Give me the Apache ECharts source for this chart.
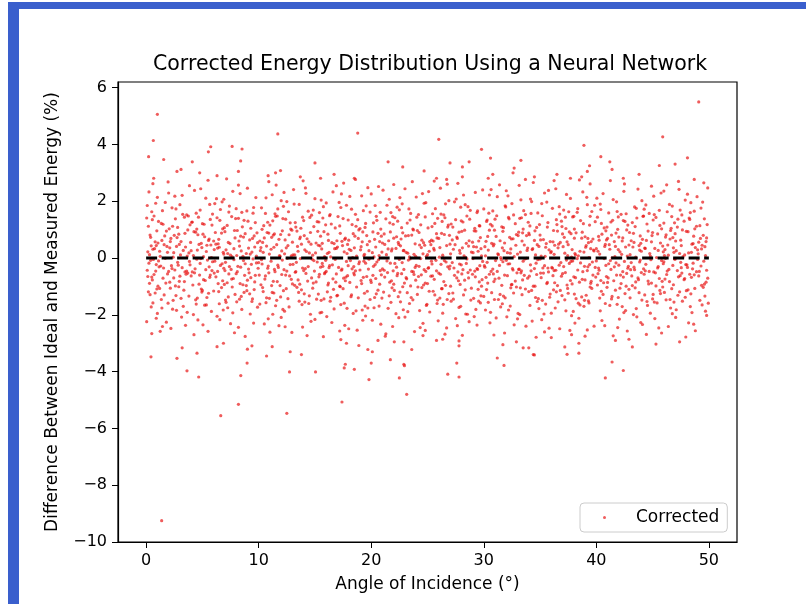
<!DOCTYPE html>
<html>
<head>
<meta charset="utf-8">
<script src="https://cdn.jsdelivr.net/npm/echarts@6/dist/echarts.min.js"></script>
<style>
  html, body { margin: 0; padding: 0; background: #fff; }
  #chart { width: 806px; height: 604px; }
</style>
</head>
<body>
<div id="chart"></div>
<script>
// tick values
const xTicks = [0, 10, 20, 30, 40, 50];
const yTicks = [-10, -8, -6, -4, -2, 0, 2, 4, 6];

// reference line (ideal = measured)
const idealLine = [[0, 0], [50, 0]];

// core of the cloud, read band by band (angle 0-10, 10-20, ...)
const band00 = [
  [0.3,0.12],[2.7,0.41],[5.1,0.05],[7.8,0.33],[9.4,0.21],[1.6,0.47],[4.2,0.09],[6.5,0.38],[8.9,0.16],[3.3,0.27],[0.9,0.44],[5.8,0.02],[7.1,0.29],[2.1,0.36],[9.8,0.07],[4.7,0.48],[6.9,0.14],[1.2,0.24],[8.3,0.42],[3.8,0.18],[0.6,0.31],[5.4,0.45],[7.5,0.1],[2.4,0.03],[9.1,0.35],[4.0,0.26],[6.2,0.49],[1.9,0.2],[8.6,0.06],[3.5,0.39],
  [1.4,0.62],[4.4,0.91],[7.3,0.55],[9.6,0.78],[2.9,0.84],[5.6,0.67],[8.1,0.97],[0.4,0.73],[3.1,0.58],[6.7,0.88],[9.2,0.64],[1.8,0.95],[4.9,0.52],[7.9,0.71],[2.5,0.8],[6.0,0.6],[8.8,0.86],[0.8,0.57],[3.7,0.99],[5.2,0.75],[7.0,0.93],[9.9,0.54],[2.2,0.69],[4.6,0.82],[6.4,0.5],[8.4,0.77],
  [0.2,1.12],[2.6,1.38],[5.0,1.21],[7.6,1.46],[9.3,1.05],[1.1,1.29],[3.9,1.17],[6.3,1.42],[8.7,1.33],[4.5,1.02],[0.7,1.48],[2.8,1.08],[5.7,1.36],[7.2,1.15],[9.7,1.25],[3.4,1.44],[6.8,1.03],[1.5,1.19],[8.2,1.4],[4.1,1.27],
  [0.5,1.63],[3.0,1.88],[5.9,1.55],[8.0,1.74],[1.7,1.96],[4.8,1.69],[7.4,1.83],[9.5,1.58],[2.3,1.77],[6.1,1.92],[8.5,1.61],[3.6,1.52],[6.6,1.71],[0.1,1.85],
  [1.0,2.14],[4.3,2.38],[6.9,2.07],[9.0,2.46],[2.0,2.29],[5.3,2.11],[7.7,2.35],[3.2,2.21],
  [0.6,2.62],[5.5,2.74],[8.2,2.57],
  [0.4,-0.08],[2.3,-0.37],[4.8,-0.19],[7.0,-0.44],[9.5,-0.03],[1.3,-0.28],[3.6,-0.46],[6.1,-0.11],[8.4,-0.32],[0.9,-0.23],[5.3,-0.41],[7.8,-0.06],[2.8,-0.15],[9.1,-0.39],[4.1,-0.49],[6.6,-0.26],[1.7,-0.01],[8.8,-0.2],[3.2,-0.34],[5.9,-0.13],[0.1,-0.43],[7.4,-0.3],[2.0,-0.47],[9.8,-0.17],[4.5,-0.04],[6.9,-0.36],[1.1,-0.1],[8.1,-0.48],[3.9,-0.24],[5.6,-0.31],
  [0.7,-0.58],[3.4,-0.83],[6.2,-0.66],[8.6,-0.94],[1.5,-0.71],[4.3,-0.52],[7.2,-0.87],[9.7,-0.61],[2.6,-0.98],[5.1,-0.76],[8.0,-0.55],[0.3,-0.89],[3.0,-0.64],[6.8,-0.8],[9.3,-0.69],[1.9,-0.56],[4.7,-0.92],[7.6,-0.74],[2.1,-0.85],[5.7,-0.6],[8.9,-0.97],[0.5,-0.67],[3.7,-0.53],[6.4,-0.9],[9.0,-0.78],[4.0,-0.63],
  [1.2,-1.07],[3.8,-1.34],[6.0,-1.16],[8.3,-1.45],[0.8,-1.23],[2.9,-1.01],[5.4,-1.39],[7.9,-1.28],[9.6,-1.11],[4.4,-1.47],[1.6,-1.3],[6.7,-1.04],[8.7,-1.21],[3.1,-1.42],[5.0,-1.14],[7.3,-1.37],[0.2,-1.19],[2.4,-1.49],[9.2,-1.26],[4.9,-1.09],
  [0.6,-1.58],[2.7,-1.84],[5.2,-1.66],[7.7,-1.93],[9.4,-1.53],[1.4,-1.76],[4.2,-1.99],[6.5,-1.61],[8.5,-1.81],[3.3,-1.7],[5.8,-1.88],[1.0,-1.95],[7.1,-1.56],[9.9,-1.73],
  [0.9,-2.12],[3.5,-2.37],[6.3,-2.05],[8.2,-2.44],[1.8,-2.26],[4.6,-2.18],[7.5,-2.31],[2.2,-2.48],
  [0.5,-2.66],[5.5,-2.58],[8.8,-2.76]
];
const band00b = [
  [0.15,0.22],[3.65,0.07],[6.35,0.35],[9.25,0.14],[1.85,0.41],[4.55,0.28],[7.65,0.04],[2.45,0.19],[5.75,0.46],[8.45,0.25],[0.75,0.33],[3.05,0.11],[6.85,0.2],[9.65,0.39],[1.25,0.06],[4.95,0.37],[7.25,0.16],[2.95,0.48],[5.35,0.23],[8.05,0.09],[0.45,0.43],[6.05,0.3],
  [0.35,0.81],[2.15,0.58],[4.25,0.93],[6.45,0.66],[8.65,0.74],[1.05,0.53],[3.45,0.87],[5.55,0.62],[7.85,0.97],[9.45,0.69],[1.65,0.78],[3.95,0.55],[6.15,0.9],[8.25,0.6],[0.95,0.96],[2.75,0.72],[5.05,0.84],[7.45,0.51],[9.85,0.89],
  [0.55,1.35],[2.35,1.12],[4.65,1.44],[6.95,1.07],[9.05,1.3],[1.35,1.22],[3.75,1.48],[5.85,1.16],[7.95,1.39],[2.05,1.03],[4.05,1.26],[6.55,1.33],[8.55,1.1],[0.05,1.41],[5.15,1.19],
  [1.45,1.67],[3.25,1.54],[5.65,1.89],[7.35,1.62],[9.55,1.78],[0.85,1.93],[2.65,1.73],[4.45,1.58],[6.75,1.98],[8.95,1.66],
  [0.25,2.33],[2.55,2.18],[4.85,2.44],[6.25,2.09],[8.35,2.27],[9.75,2.13],
  [1.95,2.68],[3.85,2.55],[7.15,2.79],
  [0.25,-0.18],[2.55,-0.42],[5.45,-0.07],[8.15,-0.29],[1.55,-0.35],[3.85,-0.12],[6.35,-0.47],[9.35,-0.22],[0.65,-0.05],[4.35,-0.38],[7.05,-0.15],[2.25,-0.27],[5.85,-0.44],[8.65,-0.09],[1.15,-0.31],[3.45,-0.49],[6.75,-0.2],[9.95,-0.36],[4.85,-0.02],[7.55,-0.4],[2.85,-0.25],[0.85,-0.46],
  [0.15,-0.65],[1.75,-0.88],[3.55,-0.57],[5.25,-0.79],[6.95,-0.93],[8.75,-0.61],[9.65,-0.84],[2.45,-0.7],[4.15,-0.95],[6.05,-0.53],[7.75,-0.72],[1.05,-0.99],[2.95,-0.82],[4.75,-0.6],[7.35,-0.56],[8.35,-0.9],[0.55,-0.77],[5.65,-0.68],[9.15,-0.52],
  [0.35,-1.29],[2.15,-1.06],[4.55,-1.41],[6.45,-1.18],[8.45,-1.35],[1.35,-1.46],[3.35,-1.13],[5.55,-1.24],[7.65,-1.02],[9.45,-1.44],[0.95,-1.09],[2.65,-1.32],[4.95,-1.2],[7.05,-1.48],[8.95,-1.15],
  [0.45,-1.72],[1.95,-1.59],[3.65,-1.91],[5.35,-1.65],[6.85,-1.83],[8.05,-1.54],[9.25,-1.97],[2.35,-1.8],[4.45,-1.62],[7.25,-1.75],
  [0.05,-2.24],[1.45,-2.41],[3.15,-2.08],[5.05,-2.35],[6.55,-2.17],[9.55,-2.29],
  [1.25,-2.58],[4.25,-2.7],[7.85,-2.63]
];
const band10 = [
  [10.2,0.37],[12.9,0.08],[15.3,0.45],[17.6,0.22],[19.4,0.13],[11.1,0.31],[13.8,0.49],[16.4,0.04],[18.2,0.27],[14.5,0.18],[10.7,0.42],[12.3,0.15],[17.0,0.39],[19.8,0.26],[15.9,0.02],[11.6,0.47],[13.2,0.11],[16.9,0.34],[18.7,0.07],[14.1,0.29],[10.4,0.2],[12.6,0.44],[15.6,0.32],[17.9,0.48],[19.1,0.4],[11.9,0.06],[13.5,0.24],[16.1,0.16],[18.5,0.36],[14.8,0.1],
  [10.5,0.71],[13.0,0.56],[15.8,0.93],[18.0,0.63],[11.4,0.85],[14.3,0.68],[16.7,0.51],[19.6,0.79],[12.1,0.96],[17.4,0.59],[10.9,0.88],[13.7,0.74],[16.2,0.62],[18.9,0.99],[15.1,0.53],[11.8,0.66],[14.6,0.9],[19.2,0.57],[12.7,0.82],[17.7,0.7],[10.1,0.6],[15.5,0.77],[18.4,0.86],[13.4,0.95],[16.5,0.54],[11.3,0.81],
  [10.8,1.26],[13.3,1.09],[15.7,1.41],[18.3,1.18],[11.5,1.47],[14.0,1.32],[16.8,1.06],[19.5,1.22],[12.4,1.37],[17.2,1.13],[10.3,1.01],[13.9,1.44],[15.2,1.28],[18.8,1.35],[11.0,1.16],[16.3,1.49],[19.0,1.04],[12.8,1.24],[14.9,1.11],[17.5,1.39],
  [10.6,1.57],[12.2,1.82],[14.4,1.65],[16.0,1.94],[18.6,1.54],[11.7,1.73],[13.6,1.89],[15.4,1.6],[17.3,1.78],[19.3,1.67],[12.5,1.99],[14.7,1.51],[17.8,1.86],[19.9,1.62],
  [11.2,2.23],[13.1,2.41],[15.0,2.09],[16.6,2.33],[18.1,2.17],[19.7,2.48],[12.0,2.02],[14.2,2.28],
  [10.9,2.69],[16.9,2.55],[18.6,2.77],
  [10.3,-0.21],[12.5,-0.46],[14.9,-0.09],[17.1,-0.33],[19.5,-0.18],[11.4,-0.4],[13.7,-0.02],[16.3,-0.27],[18.6,-0.45],[15.2,-0.14],[10.8,-0.36],[12.1,-0.07],[14.4,-0.3],[17.8,-0.12],[19.0,-0.42],[11.7,-0.25],[13.3,-0.48],[16.8,-0.05],[18.3,-0.38],[15.7,-0.29],[10.0,-0.16],[12.8,-0.23],[14.0,-0.44],[17.4,-0.39],[19.8,-0.04],[11.1,-0.11],[13.9,-0.35],[16.0,-0.47],[18.9,-0.2],[15.5,-0.32],
  [10.6,-0.63],[13.0,-0.91],[15.4,-0.57],[17.7,-0.8],[19.3,-0.68],[11.9,-0.97],[14.2,-0.54],[16.6,-0.73],[18.1,-0.86],[12.4,-0.6],[10.2,-0.94],[13.5,-0.77],[15.9,-0.51],[17.2,-0.99],[19.6,-0.65],[11.3,-0.82],[14.7,-0.7],[16.2,-0.88],[18.5,-0.59],[12.9,-0.75],[10.9,-0.52],[15.1,-0.84],[17.9,-0.62],[13.2,-0.96],[16.9,-0.56],[19.1,-0.79],
  [10.4,-1.18],[12.6,-1.43],[14.8,-1.06],[17.0,-1.31],[19.4,-1.24],[11.6,-1.49],[13.8,-1.12],[16.4,-1.38],[18.7,-1.02],[15.3,-1.27],[10.7,-1.4],[12.2,-1.15],[14.5,-1.33],[17.5,-1.08],[19.9,-1.46],[11.2,-1.21],[13.4,-1.03],[16.1,-1.19],[18.2,-1.36],[15.8,-1.44],
  [10.1,-1.62],[12.3,-1.87],[14.1,-1.55],[16.7,-1.79],[18.4,-1.95],[11.5,-1.68],[13.6,-1.52],[15.6,-1.91],[17.3,-1.64],[19.2,-1.83],[12.7,-1.72],[14.6,-1.98],[17.6,-1.59],[19.7,-1.76],
  [10.5,-2.32],[12.0,-2.09],[13.9,-2.43],[15.0,-2.16],[16.5,-2.27],[18.0,-2.49],[19.5,-2.04],[11.8,-2.38],
  [11.0,-2.61],[14.3,-2.73],[17.2,-2.57]
];
const band10b = [
  [10.15,0.26],[11.85,0.09],[13.45,0.41],[15.05,0.18],[16.75,0.33],[18.35,0.02],[19.65,0.47],[10.95,0.14],[12.45,0.36],[14.25,0.23],[15.85,0.05],[17.45,0.44],[19.05,0.29],[11.35,0.38],[13.05,0.11],[14.65,0.49],[16.25,0.2],[18.05,0.31],[19.35,0.08],[12.05,0.25],[15.45,0.43],[17.85,0.16],
  [10.35,0.55],[11.95,0.83],[13.65,0.68],[15.25,0.94],[16.95,0.61],[18.55,0.77],[10.75,0.9],[12.35,0.64],[14.05,0.79],[15.65,0.52],[17.25,0.87],[18.85,0.69],[11.15,0.73],[12.95,0.98],[14.45,0.57],[16.15,0.84],[17.65,0.66],[19.25,0.92],[19.85,0.59],
  [10.45,1.14],[12.15,1.39],[13.75,1.05],[15.35,1.27],[17.05,1.46],[18.65,1.12],[11.25,1.31],[12.85,1.02],[14.55,1.43],[16.45,1.2],[17.95,1.34],[19.45,1.08],[11.65,1.48],[15.95,1.17],[13.25,1.25],
  [10.25,1.77],[11.45,1.56],[13.15,1.9],[14.85,1.69],[16.35,1.53],[17.15,1.96],[18.25,1.72],[19.55,1.84],[12.65,1.63],[15.75,1.81],
  [10.65,2.12],[12.25,2.31],[14.15,2.47],[15.55,2.04],[17.35,2.26],[19.15,2.19],
  [11.55,2.57],[13.95,2.72],[17.55,2.64],
  [10.25,-0.06],[11.75,-0.33],[13.35,-0.15],[14.95,-0.46],[16.55,-0.24],[18.15,-0.09],[19.75,-0.39],[10.85,-0.28],[12.55,-0.01],[14.15,-0.37],[15.65,-0.19],[17.35,-0.43],[18.95,-0.13],[11.45,-0.48],[13.05,-0.22],[14.75,-0.04],[16.25,-0.34],[17.95,-0.27],[19.35,-0.11],[12.25,-0.41],[15.95,-0.08],[18.45,-0.3],
  [10.55,-0.74],[12.05,-0.58],[13.65,-0.92],[15.35,-0.66],[16.85,-0.85],[18.45,-0.53],[19.95,-0.78],[11.15,-0.97],[12.75,-0.63],[14.35,-0.81],[15.85,-0.55],[17.55,-0.71],[19.15,-0.9],[10.05,-0.6],[11.65,-0.83],[13.25,-0.5],[16.15,-0.95],[17.75,-0.67],[14.85,-0.88],
  [10.35,-1.04],[11.95,-1.37],[13.55,-1.21],[15.15,-1.45],[16.65,-1.1],[18.25,-1.3],[19.65,-1.17],[10.95,-1.42],[12.45,-1.08],[14.05,-1.26],[15.55,-1.49],[17.25,-1.01],[18.85,-1.4],[11.35,-1.23],[16.95,-1.33],
  [10.65,-1.57],[12.15,-1.81],[13.85,-1.64],[15.45,-1.93],[16.35,-1.52],[17.85,-1.77],[19.45,-1.69],[11.25,-1.98],[14.45,-1.6],[18.65,-1.86],
  [10.85,-2.14],[12.35,-2.42],[14.65,-2.23],[16.05,-2.06],[17.65,-2.37],[19.25,-2.19],
  [12.95,-2.62],[15.75,-2.77],[18.75,-2.54]
];
const band20 = [
  [20.1,0.19],[22.6,0.43],[24.9,0.06],[27.3,0.31],[29.5,0.24],[21.2,0.48],[23.8,0.13],[26.1,0.37],[28.4,0.02],[25.6,0.28],[20.7,0.09],[22.2,0.34],[24.3,0.46],[27.9,0.17],[29.1,0.4],[21.8,0.25],[23.4,0.04],[26.7,0.44],[28.9,0.21],[25.0,0.12],[20.4,0.39],[22.9,0.27],[24.6,0.15],[27.0,0.49],[29.8,0.08],[21.5,0.32],[23.1,0.2],[26.4,0.01],[28.1,0.36],[25.3,0.47],
  [20.3,0.66],[22.8,0.89],[25.2,0.58],[27.6,0.74],[29.3,0.95],[21.0,0.53],[23.6,0.81],[26.0,0.69],[28.7,0.61],[24.1,0.97],[20.9,0.77],[22.4,0.55],[25.8,0.86],[27.2,0.64],[29.7,0.72],[21.7,0.92],[23.9,0.5],[26.5,0.83],[28.3,0.98],[24.5,0.63],[20.6,0.87],[22.0,0.7],[25.5,0.6],[27.8,0.91],[29.0,0.56],[23.3,0.79],
  [20.5,1.33],[22.7,1.07],[24.8,1.45],[27.1,1.2],[29.6,1.14],[21.3,1.38],[23.7,1.02],[26.3,1.29],[28.5,1.48],[25.4,1.11],[20.2,1.24],[22.1,1.42],[24.4,1.17],[27.5,1.35],[29.2,1.05],[21.9,1.46],[23.2,1.23],[26.8,1.09],[28.0,1.31],[25.9,1.4],
  [20.8,1.61],[22.3,1.79],[24.2,1.53],[26.6,1.91],[28.8,1.68],[21.4,1.86],[23.5,1.57],[25.7,1.74],[27.4,1.98],[29.4,1.6],[22.5,1.7],[24.7,1.93],[26.2,1.55],[28.6,1.81],
  [20.0,2.26],[21.6,2.07],[23.0,2.44],[24.0,2.15],[25.1,2.34],[26.9,2.02],[28.2,2.22],[29.9,2.4],
  [22.0,2.59],[25.6,2.71],[27.7,2.63],
  [20.2,-0.29],[22.5,-0.05],[24.7,-0.41],[27.2,-0.16],[29.4,-0.37],[21.4,-0.1],[23.6,-0.47],[26.2,-0.22],[28.5,-0.03],[25.1,-0.34],[20.8,-0.44],[22.1,-0.19],[24.0,-0.26],[27.7,-0.49],[29.9,-0.12],[21.0,-0.38],[23.3,-0.07],[26.8,-0.31],[28.0,-0.24],[25.8,-0.45],[20.5,-0.14],[22.9,-0.4],[24.4,-0.02],[27.0,-0.28],[29.2,-0.46],[21.7,-0.18],[23.9,-0.33],[26.5,-0.09],[28.8,-0.42],[25.4,-0.21],
  [20.4,-0.72],[22.7,-0.55],[25.0,-0.9],[27.4,-0.61],[29.6,-0.84],[21.2,-0.67],[23.5,-0.98],[26.0,-0.53],[28.3,-0.78],[24.2,-0.65],[20.0,-0.86],[22.3,-0.62],[25.6,-0.75],[27.9,-0.93],[29.0,-0.57],[21.8,-0.8],[23.1,-0.69],[26.6,-0.96],[28.6,-0.51],[24.8,-0.88],[20.9,-0.59],[22.0,-0.92],[25.3,-0.64],[27.6,-0.7],[29.8,-0.99],[23.8,-0.58],
  [20.6,-1.13],[22.4,-1.36],[24.5,-1.04],[26.9,-1.25],[29.1,-1.42],[21.1,-1.2],[23.7,-1.47],[26.3,-1.08],[28.2,-1.3],[25.5,-1.17],[20.3,-1.39],[22.8,-1.01],[24.1,-1.28],[27.3,-1.45],[29.5,-1.1],[21.6,-1.33],[23.2,-1.22],[26.1,-1.41],[28.9,-1.06],[25.9,-1.48],
  [20.7,-1.69],[22.6,-1.54],[24.3,-1.85],[26.4,-1.63],[28.4,-1.97],[21.5,-1.77],[23.4,-1.6],[25.2,-1.9],[27.1,-1.52],[29.3,-1.81],[22.2,-1.96],[24.9,-1.67],[27.8,-1.74],[29.7,-1.58],
  [20.1,-2.19],[21.9,-2.41],[23.0,-2.08],[24.6,-2.3],[26.7,-2.46],[27.5,-2.13],[28.7,-2.24],[29.4,-2.36],
  [21.3,-2.67],[24.8,-2.55],[28.1,-2.72]
];
const band20b = [
  [20.25,0.04],[21.85,0.32],[23.25,0.17],[24.75,0.45],[26.35,0.1],[27.85,0.27],[29.35,0.39],[20.95,0.21],[22.45,0.48],[23.95,0.06],[25.55,0.34],[27.05,0.15],[28.65,0.42],[21.35,0.12],[22.85,0.26],[24.45,0.37],[26.05,0.03],[27.45,0.47],[29.05,0.19],[25.15,0.24],[28.25,0.08],[29.75,0.33],
  [20.15,0.92],[21.55,0.61],[23.05,0.78],[24.65,0.54],[26.25,0.87],[27.65,0.69],[29.15,0.96],[20.75,0.58],[22.25,0.75],[23.75,0.99],[25.35,0.63],[26.95,0.8],[28.45,0.52],[21.15,0.85],[22.65,0.67],[24.25,0.9],[25.85,0.71],[28.05,0.94],[29.55,0.6],
  [20.45,1.47],[21.95,1.19],[23.45,1.34],[25.05,1.06],[26.55,1.42],[28.15,1.27],[29.65,1.13],[20.85,1.02],[22.35,1.3],[24.05,1.44],[25.65,1.22],[27.25,1.09],[28.75,1.37],[21.65,1.24],[26.85,1.16],
  [20.35,1.85],[21.75,1.6],[23.35,1.73],[24.85,1.95],[26.45,1.52],[27.95,1.79],[29.45,1.66],[22.75,1.91],[25.45,1.56],[28.35,1.88],
  [21.05,2.39],[22.55,2.13],[24.55,2.27],[26.15,2.46],[27.55,2.08],[29.25,2.31],
  [20.65,2.52],[23.65,2.69],[26.75,2.6],
  [20.35,-0.23],[21.95,-0.45],[23.45,-0.03],[25.05,-0.36],[26.65,-0.14],[28.15,-0.41],[29.65,-0.27],[20.65,-0.06],[22.25,-0.32],[23.75,-0.49],[25.35,-0.11],[26.95,-0.38],[28.45,-0.19],[21.15,-0.43],[22.75,-0.16],[24.25,-0.29],[25.75,-0.08],[27.35,-0.35],[29.05,-0.02],[24.85,-0.47],[27.85,-0.21],[29.45,-0.4],
  [20.15,-0.61],[21.65,-0.85],[23.15,-0.73],[24.65,-0.95],[26.15,-0.57],[27.75,-0.8],[29.25,-0.66],[20.75,-0.92],[22.35,-0.54],[23.95,-0.78],[25.45,-0.63],[27.05,-0.99],[28.65,-0.7],[21.45,-0.51],[22.95,-0.88],[24.45,-0.59],[26.45,-0.83],[28.05,-0.56],[29.85,-0.76],
  [20.45,-1.26],[21.85,-1.05],[23.55,-1.39],[25.15,-1.17],[26.75,-1.46],[28.35,-1.12],[29.75,-1.33],[20.95,-1.41],[22.55,-1.2],[24.15,-1.02],[25.65,-1.3],[27.25,-1.23],[28.85,-1.48],[22.05,-1.14],[26.25,-1.08],
  [20.25,-1.75],[21.75,-1.56],[23.25,-1.89],[24.95,-1.63],[26.35,-1.94],[27.95,-1.7],[29.55,-1.52],[22.85,-1.82],[25.85,-1.6],[28.55,-1.98],
  [20.85,-2.33],[22.45,-2.1],[24.35,-2.45],[25.95,-2.21],[27.65,-2.38],[29.15,-2.06],
  [21.25,-2.75],[23.85,-2.59],[26.55,-2.68]
];
const band30 = [
  [30.4,0.28],[32.7,0.05],[34.9,0.41],[37.2,0.17],[39.5,0.33],[31.3,0.12],[33.6,0.46],[36.0,0.23],[38.4,0.08],[35.5,0.38],[30.9,0.49],[32.1,0.19],[34.3,0.3],[37.8,0.03],[39.1,0.44],[31.8,0.26],[33.0,0.14],[36.6,0.36],[38.9,0.21],[35.1,0.07],[30.1,0.4],[32.4,0.32],[34.6,0.11],[37.5,0.47],[39.8,0.25],[31.5,0.02],[33.9,0.35],[36.3,0.45],[38.1,0.16],[35.8,0.29],
  [30.2,0.59],[32.9,0.83],[35.3,0.65],[37.6,0.92],[39.3,0.54],[31.1,0.76],[33.4,0.6],[36.2,0.97],[38.7,0.7],[34.0,0.88],[30.7,0.52],[32.3,0.73],[35.9,0.58],[37.0,0.85],[39.7,0.67],[31.7,0.94],[33.8,0.79],[36.8,0.55],[38.2,0.89],[34.5,0.62],[30.5,0.98],[32.6,0.68],[35.0,0.81],[37.4,0.57],[39.0,0.75],[33.1,0.91],
  [30.6,1.19],[32.2,1.43],[34.7,1.08],[36.9,1.3],[39.4,1.16],[31.0,1.37],[33.5,1.02],[35.7,1.25],[38.0,1.47],[34.1,1.13],[30.3,1.34],[32.8,1.21],[35.2,1.49],[37.3,1.04],[39.9,1.28],[31.6,1.1],[33.2,1.4],[36.5,1.18],[38.6,1.32],[37.9,1.45],
  [30.8,1.66],[32.5,1.92],[34.2,1.57],[36.1,1.75],[38.3,1.61],[31.9,1.84],[33.7,1.53],[35.6,1.97],[37.1,1.69],[39.2,1.88],[30.0,1.73],[34.8,1.59],[36.7,1.81],[39.6,1.64],
  [31.2,2.16],[32.0,2.37],[33.3,2.05],[35.4,2.29],[36.4,2.44],[37.7,2.1],[38.8,2.33],[30.5,2.22],
  [31.4,2.58],[34.4,2.66],[38.5,2.75],
  [30.3,-0.15],[32.6,-0.42],[34.8,-0.06],[37.1,-0.3],[39.4,-0.23],[31.2,-0.47],[33.5,-0.11],[36.1,-0.36],[38.3,-0.02],[35.4,-0.27],[30.8,-0.39],[32.0,-0.08],[34.2,-0.45],[37.6,-0.19],[39.9,-0.33],[31.7,-0.13],[33.1,-0.4],[36.7,-0.25],[38.8,-0.48],[35.0,-0.04],[30.1,-0.32],[32.3,-0.2],[34.5,-0.37],[37.9,-0.1],[39.2,-0.44],[31.4,-0.26],[33.8,-0.01],[36.4,-0.43],[38.6,-0.17],[35.7,-0.35],
  [30.5,-0.57],[32.8,-0.81],[35.1,-0.69],[37.4,-0.95],[39.7,-0.6],[31.0,-0.74],[33.3,-0.52],[36.3,-0.87],[38.0,-0.66],[34.4,-0.99],[30.9,-0.83],[32.1,-0.62],[35.6,-0.9],[37.0,-0.55],[39.0,-0.77],[31.6,-0.96],[33.9,-0.71],[36.9,-0.64],[38.5,-0.85],[34.7,-0.58],[30.2,-0.68],[32.5,-0.93],[35.3,-0.53],[37.7,-0.79],[39.5,-0.89],[33.6,-0.61],
  [30.7,-1.22],[32.4,-1.05],[34.6,-1.39],[36.8,-1.14],[39.1,-1.31],[31.3,-1.46],[33.7,-1.09],[35.9,-1.27],[38.2,-1.43],[34.0,-1.18],[30.0,-1.35],[32.9,-1.02],[35.2,-1.49],[37.5,-1.24],[39.6,-1.07],[31.9,-1.4],[33.4,-1.29],[36.2,-1.12],[38.7,-1.37],[37.2,-1.47],
  [30.4,-1.56],[32.2,-1.83],[34.1,-1.67],[36.0,-1.94],[38.4,-1.59],[31.5,-1.72],[33.2,-1.99],[35.5,-1.62],[37.3,-1.86],[39.3,-1.51],[30.6,-1.91],[34.9,-1.78],[36.6,-1.54],[38.9,-1.7],
  [31.1,-2.11],[32.7,-2.35],[34.3,-2.22],[35.8,-2.47],[37.8,-2.03],[38.1,-2.29],[39.8,-2.4],[33.0,-2.14],
  [30.9,-2.71],[35.4,-2.6],[39.2,-2.53]
];
const band30b = [
  [30.15,0.08],[31.65,0.36],[33.25,0.21],[34.75,0.47],[36.25,0.13],[37.85,0.3],[39.35,0.02],[30.85,0.43],[32.35,0.17],[33.85,0.27],[35.45,0.06],[37.05,0.4],[38.55,0.24],[31.25,0.15],[32.85,0.45],[34.35,0.33],[35.95,0.19],[37.45,0.09],[39.05,0.38],[36.65,0.49],[38.15,0.11],[39.75,0.28],
  [30.35,0.76],[31.85,0.53],[33.45,0.89],[35.05,0.64],[36.55,0.95],[38.05,0.7],[39.55,0.58],[30.95,0.98],[32.45,0.67],[34.05,0.82],[35.55,0.51],[37.15,0.73],[38.75,0.91],[31.45,0.61],[33.05,0.79],[34.55,0.96],[36.15,0.57],[37.75,0.86],[39.25,0.69],
  [30.25,1.29],[31.75,1.07],[33.35,1.42],[34.95,1.18],[36.45,1.35],[38.05,1.02],[39.45,1.47],[30.75,1.13],[32.25,1.38],[33.95,1.26],[35.65,1.09],[37.25,1.44],[38.85,1.21],[31.15,1.49],[36.95,1.11],
  [30.45,1.58],[31.95,1.8],[33.55,1.67],[35.15,1.92],[36.75,1.55],[38.35,1.74],[39.85,1.86],[32.65,1.52],[34.25,1.99],[37.55,1.63],
  [30.65,2.41],[32.15,2.19],[34.15,2.08],[35.75,2.38],[37.35,2.24],[39.15,2.14],
  [33.15,2.56],[36.25,2.73],[39.45,2.61],
  [30.05,-0.27],[31.55,-0.05],[33.15,-0.39],[34.65,-0.18],[36.25,-0.44],[37.75,-0.12],[39.25,-0.31],[30.65,-0.47],[32.15,-0.21],[33.65,-0.03],[35.25,-0.35],[36.85,-0.16],[38.35,-0.42],[31.05,-0.09],[32.55,-0.37],[34.15,-0.24],[35.75,-0.49],[37.35,-0.07],[38.95,-0.29],[36.05,-0.33],[39.65,-0.14],[33.35,-0.45],
  [30.35,-0.88],[31.85,-0.6],[33.45,-0.77],[35.05,-0.53],[36.55,-0.97],[38.15,-0.69],[39.55,-0.82],[30.85,-0.56],[32.45,-0.94],[34.05,-0.64],[35.65,-0.86],[37.25,-0.51],[38.75,-0.75],[31.35,-0.71],[32.95,-0.52],[34.55,-0.99],[36.15,-0.62],[37.85,-0.91],[39.95,-0.67],
  [30.25,-1.11],[31.75,-1.34],[33.25,-1.05],[34.85,-1.43],[36.45,-1.19],[38.05,-1.27],[39.45,-1.02],[30.95,-1.46],[32.65,-1.23],[34.25,-1.14],[35.85,-1.38],[37.45,-1.07],[38.95,-1.49],[31.45,-1.28],[36.95,-1.32],
  [30.15,-1.83],[31.65,-1.61],[33.05,-1.95],[34.75,-1.53],[36.35,-1.76],[37.95,-1.88],[39.35,-1.58],[32.35,-1.69],[35.35,-1.97],[38.55,-1.65],
  [30.55,-2.28],[32.05,-2.07],[33.75,-2.4],[35.15,-2.17],[36.75,-2.49],[38.45,-2.12],
  [31.85,-2.64],[34.65,-2.79],[37.65,-2.55]
];
const band40 = [
  [40.3,0.14],[42.6,0.39],[44.8,0.07],[47.1,0.26],[49.4,0.45],[41.2,0.31],[43.5,0.03],[45.9,0.42],[48.2,0.18],[46.4,0.1],[40.8,0.48],[42.1,0.22],[44.3,0.35],[47.7,0.05],[49.0,0.29],[41.7,0.41],[43.0,0.12],[45.5,0.27],[48.8,0.37],[46.9,0.2],[40.0,0.33],[42.9,0.46],[44.0,0.24],[47.4,0.16],[49.7,0.09],[41.4,0.01],[43.8,0.44],[45.2,0.34],[48.5,0.49],[46.1,0.3],
  [40.5,0.84],[42.3,0.6],[44.6,0.95],[46.8,0.72],[49.1,0.56],[41.0,0.69],[43.3,0.87],[45.7,0.53],[48.0,0.94],[47.5,0.63],[40.2,0.76],[42.7,0.99],[44.1,0.66],[46.2,0.82],[49.8,0.71],[41.6,0.58],[43.9,0.78],[45.0,0.9],[48.6,0.51],[47.0,0.86],[40.9,0.64],[42.0,0.74],[44.9,0.57],[46.6,0.97],[49.5,0.8],[43.1,0.61],
  [40.7,1.06],[42.4,1.32],[44.5,1.2],[46.7,1.46],[49.2,1.14],[41.3,1.27],[43.6,1.41],[45.8,1.03],[48.3,1.36],[47.2,1.09],[40.1,1.44],[42.8,1.16],[44.2,1.48],[46.0,1.23],[49.6,1.38],[41.9,1.01],[43.2,1.25],[45.3,1.43],[48.9,1.12],[47.8,1.3],
  [40.4,1.71],[42.2,1.54],[44.4,1.87],[46.3,1.63],[48.4,1.95],[41.1,1.59],[43.4,1.8],[45.6,1.68],[47.6,1.52],[49.3,1.76],[41.8,1.98],[44.7,1.57],[46.5,1.89],[48.7,1.65],
  [40.6,2.27],[41.5,2.06],[43.7,2.43],[45.1,2.18],[46.0,2.36],[47.9,2.04],[48.1,2.25],[49.9,2.47],
  [42.5,2.61],[44.9,2.53],[47.3,2.7],
  [40.2,-0.35],[42.5,-0.12],[44.7,-0.47],[47.0,-0.04],[49.3,-0.28],[41.1,-0.2],[43.4,-0.41],[45.8,-0.09],[48.1,-0.33],[46.3,-0.46],[40.7,-0.02],[42.0,-0.25],[44.2,-0.38],[47.5,-0.15],[49.8,-0.43],[41.6,-0.31],[43.9,-0.07],[45.1,-0.49],[48.6,-0.18],[46.8,-0.26],[40.0,-0.1],[42.8,-0.36],[44.4,-0.22],[47.2,-0.44],[49.0,-0.05],[41.3,-0.4],[43.1,-0.16],[45.5,-0.3],[48.9,-0.48],[46.0,-0.13],
  [40.4,-0.79],[42.7,-0.54],[44.9,-0.88],[47.3,-0.66],[49.6,-0.92],[41.8,-0.6],[43.2,-0.97],[45.6,-0.72],[48.3,-0.57],[46.5,-0.83],[40.9,-0.65],[42.2,-0.9],[44.0,-0.51],[47.8,-0.76],[49.1,-0.63],[41.0,-0.86],[43.7,-0.7],[45.3,-0.98],[48.7,-0.59],[46.1,-0.74],[40.1,-0.95],[42.4,-0.67],[44.6,-0.81],[47.6,-0.53],[49.9,-0.71],[43.5,-0.84],
  [40.6,-1.28],[42.9,-1.1],[45.0,-1.44],[47.4,-1.19],[49.5,-1.03],[41.4,-1.35],[43.8,-1.22],[46.2,-1.47],[48.0,-1.15],[44.3,-1.3],[40.3,-1.41],[42.1,-1.06],[45.7,-1.25],[47.9,-1.38],[49.2,-1.49],[41.7,-1.13],[43.0,-1.4],[46.7,-1.08],[48.4,-1.26],[45.9,-1.02],
  [40.8,-1.6],[42.6,-1.85],[44.5,-1.53],[46.6,-1.76],[48.5,-1.92],[41.2,-1.67],[43.3,-1.99],[45.4,-1.58],[47.1,-1.82],[49.4,-1.65],[42.3,-1.71],[44.8,-1.94],[46.9,-1.55],[49.7,-1.87],
  [40.5,-2.2],[41.9,-2.45],[43.6,-2.07],[44.1,-2.34],[45.2,-2.13],[46.4,-2.41],[48.2,-2.28],[49.8,-2.02],
  [41.5,-2.74],[45.8,-2.64],[48.8,-2.56]
];
const band40b = [
  [40.15,0.24],[41.65,0.05],[43.25,0.39],[44.75,0.16],[46.35,0.46],[47.85,0.11],[49.35,0.32],[40.75,0.41],[42.25,0.13],[43.85,0.28],[45.35,0.02],[46.85,0.36],[48.45,0.2],[41.15,0.47],[42.75,0.07],[44.35,0.34],[45.95,0.22],[47.55,0.44],[49.05,0.15],[41.95,0.3],[46.05,0.09],[49.65,0.4],
  [40.25,0.63],[41.75,0.88],[43.35,0.55],[44.95,0.79],[46.55,0.67],[48.15,0.93],[49.75,0.58],[40.85,0.96],[42.35,0.71],[43.95,0.52],[45.45,0.85],[47.05,0.6],[48.65,0.77],[41.35,0.81],[42.95,0.9],[44.45,0.62],[46.15,0.74],[47.65,0.99],[49.25,0.69],
  [40.45,1.22],[41.95,1.45],[43.45,1.11],[45.05,1.34],[46.65,1.05],[48.25,1.41],[49.85,1.18],[40.95,1.09],[42.55,1.29],[44.15,1.47],[45.65,1.15],[47.25,1.37],[48.75,1.03],[41.45,1.33],[46.95,1.24],
  [40.35,1.9],[41.85,1.64],[43.55,1.75],[45.15,1.53],[46.75,1.83],[48.35,1.6],[49.45,1.97],[42.65,1.56],[44.25,1.72],[47.45,1.69],
  [40.05,2.11],[42.45,2.35],[44.05,2.02],[45.75,2.29],[47.35,2.42],[48.95,2.16],
  [41.25,2.73],[46.25,2.58],[49.55,2.65],
  [40.25,-0.43],[41.75,-0.17],[43.35,-0.32],[44.85,-0.06],[46.45,-0.4],[47.95,-0.23],[49.55,-0.11],[40.85,-0.26],[42.35,-0.48],[43.85,-0.14],[45.45,-0.35],[46.95,-0.03],[48.55,-0.38],[41.25,-0.09],[42.85,-0.29],[44.35,-0.45],[45.95,-0.2],[47.55,-0.34],[49.15,-0.47],[46.15,-0.01],[48.05,-0.24],[43.05,-0.41],
  [40.15,-0.55],[41.55,-0.8],[43.15,-0.63],[44.65,-0.91],[46.25,-0.58],[47.85,-0.72],[49.35,-0.96],[40.65,-0.87],[42.15,-0.6],[43.75,-0.76],[45.25,-0.52],[46.85,-0.94],[48.45,-0.68],[41.05,-0.7],[42.65,-0.99],[44.25,-0.57],[45.85,-0.82],[47.45,-0.62],[49.75,-0.85],
  [40.45,-1.17],[41.95,-1.39],[43.45,-1.05],[45.05,-1.28],[46.55,-1.46],[48.15,-1.12],[49.65,-1.34],[40.95,-1.03],[42.55,-1.25],[44.05,-1.48],[45.65,-1.14],[47.25,-1.31],[48.75,-1.07],[41.35,-1.44],[46.05,-1.21],
  [40.35,-1.86],[41.85,-1.63],[43.55,-1.78],[45.15,-1.55],[46.75,-1.96],[48.35,-1.71],[49.95,-1.59],[42.45,-1.92],[44.55,-1.67],[47.65,-1.52],
  [40.75,-2.38],[42.05,-2.15],[43.95,-2.27],[45.55,-2.46],[47.05,-2.09],[48.65,-2.33],
  [42.75,-2.57],[44.45,-2.69],[47.95,-2.78]
];

// sparse points above and below the cloud
const outliersHigh = [
  [1.0,5.06],[0.64,4.14],[0.22,3.57],[1.56,3.47],[0.67,2.81],[11.7,4.37],[5.74,3.92],[5.53,3.74],[7.64,3.93],[8.52,3.84],[8.4,3.42],[4.1,3.39],[2.74,3.05],[3.1,3.12],[4.76,3.0],[8.2,3.05],[6.3,2.9],[10.84,2.9],[11.5,3.0],[11.94,3.08],[15.0,3.35],[13.7,2.86],[15.5,2.81],
  [18.8,4.4],[26.0,4.18],[29.8,3.83],[30.6,3.52],[21.5,3.39],[22.8,3.21],[27.0,3.35],[28.1,3.21],[28.7,3.39],[33.3,3.44],[32.7,3.17],[32.6,3.0],[30.8,2.95],[30.4,2.81],[24.7,3.07],[16.7,2.95],[18.5,2.81],[25.8,2.81],[26.7,2.77],[28.1,2.86],[33.7,2.77],
  [49.1,5.5],[45.9,4.27],[38.9,3.97],[40.4,3.57],[41.2,3.39],[41.4,3.12],[39.4,3.25],[39.2,3.05],[45.6,3.26],[47.0,3.31],[48.1,3.53],[34.5,2.86],[36.5,2.95],[37.7,2.81],[38.7,2.86],[42.4,2.81],[43.8,2.95],[48.7,2.77]
];
const outliersLow = [
  [1.38,-9.25],[0.43,-3.48],[2.74,-3.53],[3.63,-3.97],[4.67,-4.19],[4.52,-3.35],[6.63,-5.55],[8.2,-5.15],[8.41,-4.14],[8.97,-3.7],[10.7,-3.45],[12.74,-4.01],[12.5,-5.47],[15.05,-4.01],[13.8,-3.4],[12.8,-3.3],[6.3,-3.12],[6.87,-3.0],[3.2,-3.16],[9.0,-3.21],[9.4,-3.09],[11.2,-3.12],
  [17.4,-5.07],[23.15,-4.8],[19.8,-4.28],[22.5,-4.22],[26.8,-4.09],[27.8,-4.19],[18.5,-3.92],[17.6,-3.87],[17.7,-3.74],[20.0,-3.7],[22.9,-3.74],[22.95,-3.79],[21.7,-3.58],[27.6,-3.7],[31.8,-3.78],[31.2,-3.52],[34.4,-3.4],[23.6,-3.22],[19.7,-3.22],[20.1,-3.3],[18.9,-3.08],[31.7,-3.05],[32.9,-2.95],[33.5,-3.16],[34.0,-3.16],[27.8,-3.09],[27.8,-2.92],[25.8,-2.9],[26.35,-2.86],[17.3,-2.87],[17.8,-3.0],[22.05,-2.95],[22.9,-2.95],[20.6,-2.9],[24.6,-2.73],
  [40.8,-4.22],[42.4,-3.96],[41.4,-3.66],[34.5,-3.41],[37.4,-3.39],[38.45,-3.35],[37.2,-3.13],[38.45,-3.0],[41.7,-2.9],[42.9,-2.86],[43.2,-3.13],[45.3,-3.03],[47.4,-2.95],[36.0,-2.8],[37.8,-2.7],[39.0,-2.75]
];

const FONT = 'DejaVu Sans';
const minusSign = (v) => String(v).replace('-', '\u2212');

const chart = echarts.init(document.getElementById('chart'), null, { renderer: 'canvas' });

chart.setOption({
  animation: false,
  backgroundColor: '#fff',
  textStyle: { fontFamily: FONT },
  title: {
    text: 'Corrected Energy Distribution Using a Neural Network',
    left: 148,
    top: 49,
    textStyle: { fontFamily: FONT, fontSize: 20.5, fontWeight: 'normal', color: '#000' },
  },
  legend: {
    data: ['Corrected'],
    left: 580,
    top: 503,
    icon: 'circle',
    itemWidth: 3,
    itemHeight: 3,
    padding: [6, 8, 6, 23],
    borderColor: '#cccccc',
    borderWidth: 1,
    borderRadius: 4,
    backgroundColor: 'rgba(255,255,255,0.8)',
    textStyle: { fontFamily: FONT, fontSize: 17, color: '#000', padding: [0, 0, 0, 25] },
  },
  grid: {
    left: 118,
    right: 69,
    top: 82,
    bottom: 62,
    show: true,
    borderColor: '#000',
    borderWidth: 1.2,
    backgroundColor: '#fff',
  },
  xAxis: {
    type: 'value',
    min: -2.5,
    max: 52.5,
    name: 'Angle of Incidence (°)',
    nameLocation: 'middle',
    nameGap: 34,
    nameTextStyle: { fontFamily: FONT, fontSize: 17, color: '#000' },
    axisLine: { show: true, onZero: false, lineStyle: { color: '#000', width: 1.2 } },
    axisTick: { show: true, length: 6, customValues: xTicks, lineStyle: { color: '#000' } },
    axisLabel: { customValues: xTicks, margin: 11, fontFamily: FONT, fontSize: 16, color: '#000' },
    splitLine: { show: false },
  },
  yAxis: {
    type: 'value',
    min: -10,
    max: 6.2,
    name: 'Difference Between Ideal and Measured Energy (%)',
    nameLocation: 'middle',
    nameGap: 57,
    nameTextStyle: { fontFamily: FONT, fontSize: 17, color: '#000' },
    axisLine: { show: true, onZero: false, lineStyle: { color: '#000', width: 1.2 } },
    axisTick: { show: true, length: 6, customValues: yTicks, lineStyle: { color: '#000' } },
    axisLabel: { customValues: yTicks, margin: 11, fontFamily: FONT, fontSize: 16, color: '#000', formatter: minusSign },
    splitLine: { show: false },
  },
  series: [
    {
      name: 'Corrected',
      type: 'scatter',
      symbol: 'circle',
      symbolSize: 3.2,
      silent: true,
      itemStyle: { color: 'rgba(232,16,16,0.85)' },
      data: [].concat(band00, band00b, band10, band10b, band20, band20b, band30, band30b, band40, band40b, outliersHigh, outliersLow),
      z: 2,
    },
    {
      name: 'ideal',
      type: 'line',
      symbol: 'none',
      silent: true,
      lineStyle: { color: '#000', width: 3, type: [11, 4.5] },
      data: idealLine,
      z: 5,
    },
  ],
  graphic: [
    { type: 'rect', shape: { x: 8, y: 2, width: 798, height: 7 }, style: { fill: '#3a5fcd' }, z: 100 },
    { type: 'rect', shape: { x: 8, y: 2, width: 11, height: 602 }, style: { fill: '#3a5fcd' }, z: 100 },
  ],
});
</script>
</body>
</html>
